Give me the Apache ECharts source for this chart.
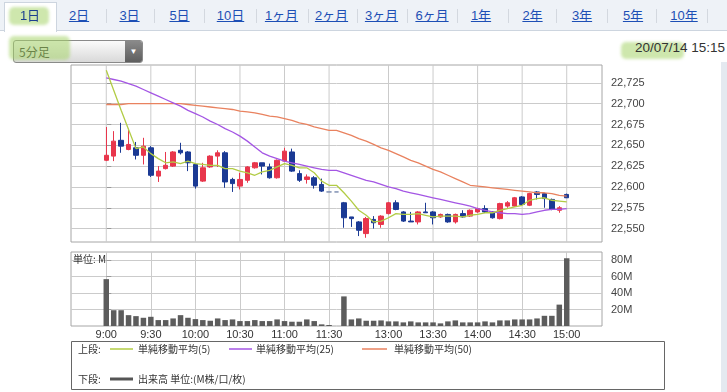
<!DOCTYPE html>
<html><head><meta charset="utf-8">
<script src="https://cdn.jsdelivr.net/npm/echarts@6/dist/echarts.min.js"></script>
<style>
body{margin:0;width:727px;height:392px;overflow:hidden;background:#fff;position:relative;font-family:"Liberation Sans","Noto Sans CJK JP",sans-serif}
#chart{position:absolute;left:0;top:0;width:727px;height:392px}
.tabbar{position:absolute;left:0;top:0;width:727px;height:30px;background:#eef2f7;border-bottom:1px solid #cdd5df}
.seltab{position:absolute;left:4px;top:2px;width:51px;height:29px;background:#fff;border:1px solid #cdd5df;border-bottom:none}
.tab{position:absolute;top:7px;font-size:13px;line-height:18px;color:#1d4fb5;text-decoration:underline;transform:translateX(-50%);white-space:nowrap;font-family:"Liberation Sans","Noto Sans CJK JP",sans-serif}
.sep{position:absolute;top:9px;width:1px;height:14px;background:#d3d8df}
.hl{position:absolute;background:rgba(165,212,105,0.55);border-radius:5px;filter:blur(1.5px)}
.dd{position:absolute;left:13px;top:40px;width:128px;height:21px;border:1px solid #8a8a8a;border-radius:3px;background:linear-gradient(#fbfbfb,#d9d9d9);overflow:hidden}
.dd .txt{position:absolute;left:5px;top:2px;font-size:12px;line-height:17px;color:#222;font-family:"Noto Sans CJK JP",sans-serif}
.dd .arr{position:absolute;right:0;top:0;width:17px;height:21px;background:linear-gradient(#8a8a8a,#5e5e5e);color:#fff;font-size:8px;line-height:21px;text-align:center}
.date{position:absolute;right:2px;top:39px;font-size:13.5px;line-height:18px;color:#333}
.band{position:absolute;left:721px;top:62px;width:6px;height:330px;background:#e4e9f0}
</style></head>
<body>
<div class="tabbar"></div>
<div class="seltab"></div>
<div class="hl" style="left:9px;top:7px;width:40px;height:18px"></div>
<div class="hl" style="left:9px;top:36px;width:61px;height:24px;z-index:2"></div>
<div class="hl" style="left:621px;top:42px;width:63px;height:17px"></div>
<div id="tabs"></div>
<div class="dd"><div class="txt">5分足</div><div class="arr">▼</div></div>
<div class="date">20/07/14 15:15</div>
<div class="band"></div>
<div id="chart"></div>
<script>
// ---- data ----
const tabLabels = ['1日','2日','3日','5日','10日','1ヶ月','2ヶ月','3ヶ月','6ヶ月','1年','2年','3年','5年','10年'];
const times = ['9:00','9:05','9:10','9:15','9:20','9:25','9:30','9:35','9:40','9:45','9:50','9:55',
 '10:00','10:05','10:10','10:15','10:20','10:25','10:30','10:35','10:40','10:45','10:50','10:55',
 '11:00','11:05','11:10','11:15','11:20','11:25','11:30','',
 '12:30','12:35','12:40','12:45','12:50','12:55','13:00','13:05','13:10','13:15','13:20','13:25',
 '13:30','13:35','13:40','13:45','13:50','13:55','14:00','14:05','14:10','14:15','14:20','14:25',
 '14:30','14:35','14:40','14:45','14:50','14:55','15:00'];
const opens = [22632,22637,22656,22645,22647,22638,22647,22613,22622,22625,22644,22642,22627,22607,22624,22637,22641,22609,22601,22608,22623,22629,22624,22611,22631,22642,22616,22609,22611,22603,22594,22594,
 22581,22564,22558,22544,22561,22555,22568,22581,22570,22559,22558,22570,22570,22564,22567,22558,22568,22565,22570,22574,22570,22562,22577,22577,22588,22578,22594,22592,22585,22572,22591];
const closes = [22638,22655,22649,22651,22638,22649,22614,22619,22626,22642,22641,22629,22601,22623,22637,22641,22606,22604,22609,22624,22629,22625,22611,22632,22643,22619,22608,22612,22602,22595,22594,22594,
 22563,22562,22548,22562,22557,22565,22581,22573,22559,22558,22570,22569,22563,22567,22558,22567,22564,22572,22574,22570,22563,22580,22581,22587,22579,22592,22591,22586,22573,22575,22587];
const lows = [22631,22631,22641,22644,22633,22627,22612,22606,22621,22624,22639,22619,22598,22606,22623,22624,22599,22594,22597,22605,22622,22615,22610,22610,22630,22618,22606,22604,22598,22594,22594,22594,
 22551,22552,22541,22539,22550,22551,22567,22572,22558,22558,22555,22569,22555,22563,22557,22556,22563,22564,22569,22569,22562,22561,22575,22576,22578,22577,22585,22575,22572,22569,22587];
const highs = [22672,22667,22677,22670,22654,22659,22649,22625,22642,22643,22653,22643,22628,22629,22638,22644,22643,22611,22617,22625,22630,22629,22628,22633,22647,22646,22620,22615,22613,22610,22594,22594,
 22582,22564,22559,22564,22565,22566,22582,22584,22571,22570,22571,22581,22571,22568,22568,22568,22572,22573,22575,22578,22571,22581,22583,22588,22589,22593,22595,22593,22586,22577,22592];
const ma5 = [22740,22716,22692,22669,22646,22648,22640,22634,22629,22630,22628,22631,22628,22627,22626,22626,22622,22622,22619,22617,22614,22618,22620,22624,22628,22626,22623,22623,22617,22607,22602,22602,
 22593,22583,22572,22566,22558,22559,22563,22568,22567,22567,22568,22566,22564,22565,22565,22565,22564,22566,22567,22569,22569,22572,22574,22576,22578,22584,22586,22587,22584,22583,22582];
const ma25 = [22731,22729,22727,22724,22721,22717,22713,22709,22705,22701,22697,22692,22688,22684,22679,22675,22670,22666,22661,22655,22648,22641,22637,22634,22631,22629,22627,22625,22623,22621,22620,22620,
 22617,22614,22611,22608,22606,22603,22600,22598,22595,22593,22591,22589,22587,22585,22583,22581,22579,22577,22574,22572,22570,22569,22568,22568,22567,22568,22570,22572,22573,22573,22574];
const ma50 = [22699,22699,22699,22700,22700,22700,22700,22700,22700,22700,22700,22699,22698,22697,22696,22695,22694,22693,22691,22690,22689,22687,22685,22684,22682,22680,22677,22675,22672,22670,22668,22668,
 22665,22662,22658,22655,22651,22647,22644,22640,22636,22632,22629,22625,22621,22618,22614,22610,22606,22602,22601,22600,22599,22598,22597,22596,22595,22594,22593,22593,22592,22590,22589];
const volumes = [57,19.2,19.2,13.2,12,10,11.2,7.2,7.2,9.2,13.2,10,8.4,7.2,6.4,9.2,7.2,8,6,6,7.2,6,6,8,6,5.2,5.2,8,6,2,1.2,0,
 36,8,9.2,6.4,6.4,6.8,5.6,5.6,4.4,5.6,4.4,4.4,4.4,3.2,5.6,6.8,4.4,4.4,4.4,5.6,4.4,6.8,6.8,8,8,8,9.2,12.4,12.4,26,82.4];
const xTickIdx = [0,6,12,18,24,30,38,44,50,56,62];
const priceTicks = [22550,22575,22600,22625,22650,22675,22700,22725];
const volTicks = [20,40,60,80];
const legendItems = ['単純移動平均(5)','単純移動平均(25)','単純移動平均(50)'];

// ---- header tabs ----
const tabCenters = [30,79,129.5,179.5,230.5,281.5,331.5,381.5,432,481,532.5,582,633,684];
const sepX = [106,154,204,256,308,357,407,457,508,556,607,656,707];
const tabsEl = document.getElementById('tabs');
tabLabels.forEach((t,i)=>{
  const d=document.createElement('div');d.className='tab';d.textContent=t;d.style.left=tabCenters[i]+'px';
  if(i===0){d.style.textDecoration='none';d.style.color='#1b3f8f';d.style.zIndex=3;}
  tabsEl.appendChild(d);
});
sepX.forEach(x=>{const s=document.createElement('div');s.className='sep';s.style.left=x+'px';tabsEl.appendChild(s);});

// ---- chart ----
const C_UP='#e8364c', C_DN='#1b3a94', C5='#b2cc45', C25='#a456e4', C50='#e9825f';
const GRID_C='#cbcbcb';
const P_MIN=22533.9, P_MAX=22746.4, X_MIN=-4.75, X_MAX=66.75;
const fmt = v => String(v).replace(/\B(?=(\d{3})+(?!\d))/g, ',');
const chart = echarts.init(document.getElementById('chart'), null, {renderer:'canvas'});
const gl = () => ({show:true, lineStyle:{color:GRID_C, width:1}});
// vertical time grid of the upper panel as broken line segments through the axis scales
const vGrid = [];
xTickIdx.forEach(v=>{ vGrid.push([v,P_MIN],[v,P_MAX],[v,'-']); });
chart.setOption({
  animation:false,
  grid:[
    {left:71, top:65, width:531, height:177, show:true, borderColor:'#a6a6a6', borderWidth:1, backgroundColor:'transparent'},
    {left:71, top:252, width:531, height:74, show:true, borderColor:'#a6a6a6', borderWidth:1, backgroundColor:'transparent'}
  ],
  xAxis:[
    {type:'value', gridIndex:0, min:X_MIN, max:X_MAX, axisLine:{show:false}, axisTick:{show:false}, axisLabel:{show:false}, splitLine:{show:false}},
    {type:'value', gridIndex:1, min:X_MIN, max:X_MAX, axisLine:{show:false},
     axisTick:{show:false, customValues:xTickIdx},
     axisLabel:{show:true, customValues:xTickIdx, formatter:v=>times[v], color:'#333', fontSize:11, margin:3, fontFamily:'Liberation Sans'},
     splitLine:gl()}
  ],
  yAxis:[
    {type:'value', gridIndex:0, position:'right', min:P_MIN, max:P_MAX, axisLine:{show:false},
     axisTick:{show:true, customValues:priceTicks, length:5, lineStyle:{color:'#999'}},
     axisLabel:{customValues:priceTicks, formatter:fmt, color:'#444', fontSize:11, margin:9, fontFamily:'Liberation Sans'},
     splitLine:gl()},
    {type:'value', gridIndex:1, position:'right', min:0, max:90, axisLine:{show:false},
     axisTick:{show:true, customValues:volTicks, length:5, lineStyle:{color:'#999'}},
     axisLabel:{customValues:volTicks, formatter:v=>v+'M', color:'#444', fontSize:11, margin:9, fontFamily:'Liberation Sans'},
     splitLine:gl()}
  ],
  series:[
    {type:'line', xAxisIndex:0, yAxisIndex:0, data:vGrid, showSymbol:false, connectNulls:false, silent:true, z:1,
     lineStyle:{color:GRID_C, width:1}},
    {type:'candlestick', xAxisIndex:0, yAxisIndex:0, barWidth:5, z:3,
     data: times.map((t,i)=>[i, opens[i], closes[i], lows[i], highs[i]]),
     itemStyle:{color:C_UP, color0:C_DN, borderColor:C_UP, borderColor0:C_DN, borderColorDoji:'#7f8fb2', borderWidth:1}},
    {type:'line', xAxisIndex:0, yAxisIndex:0, data: ma50.map((v,i)=>[i,v]), showSymbol:false, lineStyle:{color:C50, width:1.3}, z:4},
    {type:'line', xAxisIndex:0, yAxisIndex:0, data: ma25.map((v,i)=>[i,v]), showSymbol:false, lineStyle:{color:C25, width:1.3}, z:4},
    {type:'line', xAxisIndex:0, yAxisIndex:0, data: ma5.map((v,i)=>[i,v]), showSymbol:false, lineStyle:{color:C5, width:1.3}, z:4},
    {type:'bar', xAxisIndex:1, yAxisIndex:1, barWidth:5.5, data: volumes.map((v,i)=>[i,v]), itemStyle:{color:'#5c5c5c'}}
  ],
  graphic:[
    {type:'text', left:73, top:254, style:{text:'単位: M', font:'10px "Noto Sans CJK JP"', fill:'#333'}, z:10},
    {type:'rect', shape:{x:71.5, y:341.5, width:593, height:48}, style:{fill:'#fff', stroke:'#666', lineWidth:1}},
    {type:'text', x:78, y:349, style:{text:'上段:', font:'10px "Noto Sans CJK JP"', fill:'#333', verticalAlign:'middle'}},
    {type:'line', shape:{x1:110, y1:349, x2:133, y2:349}, style:{stroke:C5, lineWidth:1.5}},
    {type:'text', x:138, y:349, style:{text:legendItems[0], font:'10px "Noto Sans CJK JP"', fill:'#333', verticalAlign:'middle'}},
    {type:'line', shape:{x1:229, y1:349, x2:252, y2:349}, style:{stroke:C25, lineWidth:1.5}},
    {type:'text', x:256, y:349, style:{text:legendItems[1], font:'10px "Noto Sans CJK JP"', fill:'#333', verticalAlign:'middle'}},
    {type:'line', shape:{x1:362, y1:349, x2:387, y2:349}, style:{stroke:C50, lineWidth:1.5}},
    {type:'text', x:394, y:349, style:{text:legendItems[2], font:'10px "Noto Sans CJK JP"', fill:'#333', verticalAlign:'middle'}},
    {type:'text', x:78, y:379, style:{text:'下段:', font:'10px "Noto Sans CJK JP"', fill:'#333', verticalAlign:'middle'}},
    {type:'line', shape:{x1:110, y1:379, x2:133, y2:379}, style:{stroke:'#555', lineWidth:3}},
    {type:'text', x:138, y:379, style:{text:'出来高 単位:(M株/口/枚)', font:'10px "Noto Sans CJK JP"', fill:'#333', verticalAlign:'middle'}}
  ]
});
</script>
</body></html>
